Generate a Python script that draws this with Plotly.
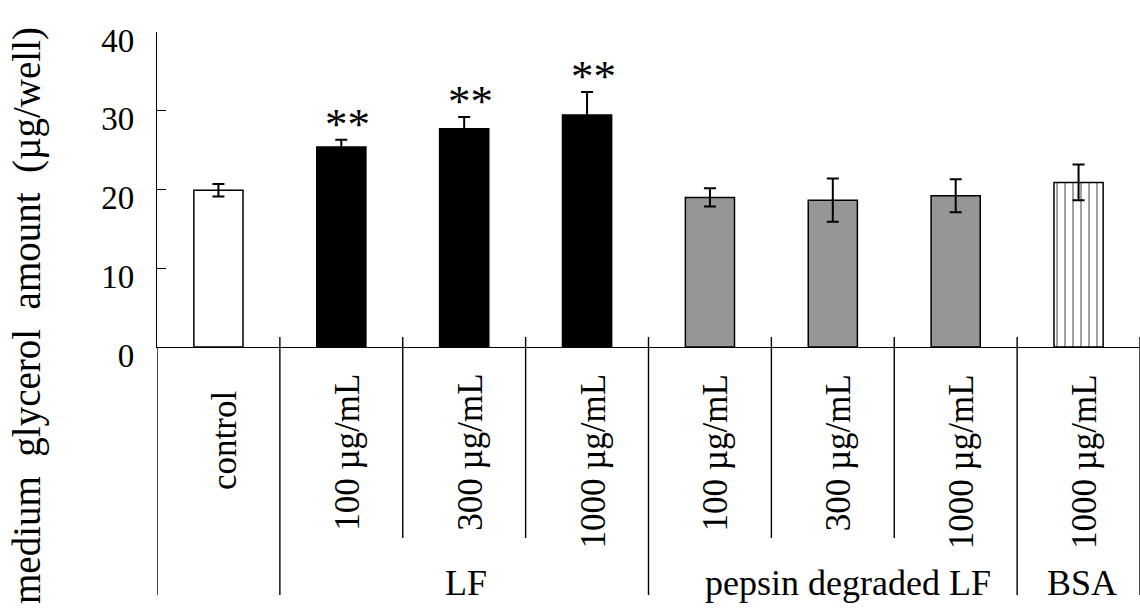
import plotly.graph_objects as go

# ---- data ----
categories = ['control', '100 µg/mL', '300 µg/mL', '1000 µg/mL',
              '100 µg/mL', '300 µg/mL', '1000 µg/mL', '1000 µg/mL']
groups = ['', 'LF', 'LF', 'LF', 'pepsin degraded LF', 'pepsin degraded LF',
          'pepsin degraded LF', 'BSA']
means = [19.9, 25.4, 27.7, 29.45, 19.0, 18.65, 19.2, 20.9]
sds = [0.8, 0.93, 1.52, 2.92, 1.16, 2.75, 2.1, 2.26]
marks = ['', '**', '**', '**', '', '', '', '']
y_ticks = [0, 10, 20, 30, 40]
y_title = 'medium\u00a0 glycerol\u00a0 amount\u00a0 (µg/well)'

# ---- styles ----
W, H = 1140, 614
ML, MR, MT, MB = 157, 0, 32, 267
PH = H - MT - MB
FONT = 'Liberation Serif'
bar_colors = []
patterns = []
for g in groups:
    if g == '':
        bar_colors.append('white'); patterns.append('')
    elif g == 'LF':
        bar_colors.append('black'); patterns.append('')
    elif g == 'BSA':
        bar_colors.append('white'); patterns.append('|')
    else:
        bar_colors.append('#969696'); patterns.append('')


def py(pix):
    """pixel row -> paper y"""
    return (H - MB - pix) / PH


def pxp(pix):
    return (pix - ML) / (W - ML - MR)


xs = list(range(len(categories)))

fig = go.Figure()
fig.add_trace(go.Bar(
    x=xs, y=means, width=0.4,
    marker=dict(color=bar_colors, line=dict(color='black', width=1.5),
                pattern=dict(shape=patterns, fgcolor='black', bgcolor='white',
                             size=8, solidity=0.25)),
    error_y=dict(type='data', array=sds, visible=True, color='black',
                 thickness=2, width=6),
    showlegend=False,
))

annotations = []
# significance marks
for i, (m, s, mk) in enumerate(zip(means, sds, marks)):
    if mk:
        annotations.append(dict(x=i, y=m + s, xref='x', yref='y', text=mk,
                                showarrow=False, xshift=6, yshift=16,
                                yanchor='middle',
                                font=dict(family=FONT, size=45, color='black')))
# category labels (rotated)
for i, c in enumerate(categories):
    top = 389 if c == 'control' else 372
    annotations.append(dict(x=i, y=py(top), xref='x', yref='paper', text=c,
                            textangle=-90, showarrow=False, xshift=6,
                            yanchor='top', xanchor='center',
                            font=dict(family=FONT, size=35, color='black')))
# group labels
seen = []
for g in groups:
    if g and g not in seen:
        seen.append(g)
shifts = {'LF': 2, 'pepsin degraded LF': 15, 'BSA': 3}
for g in seen:
    idx = [i for i, gg in enumerate(groups) if gg == g]
    cx = sum(idx) / len(idx)
    annotations.append(dict(x=cx, y=py(583), xref='x', yref='paper', text=g,
                            showarrow=False, xshift=shifts.get(g, 0),
                            yanchor='middle',
                            font=dict(family=FONT, size=36, color='black')))
# y title
annotations.append(dict(x=pxp(27), y=py(316), xref='paper', yref='paper',
                        text=y_title, textangle=-90, showarrow=False,
                        xanchor='center', yanchor='middle',
                        font=dict(family=FONT, size=39, color='black')))

# table lines
shapes = []
line = dict(color='black', width=1.4)
# y-axis extension downward
shapes.append(dict(type='line', xref='x', yref='paper', x0=-0.5, x1=-0.5,
                   y0=0, y1=py(595), line=line))
for k in range(len(categories)):
    xb = k + 0.5
    left = groups[k]
    right = groups[k + 1] if k + 1 < len(groups) else None
    full = (right is None) or (left != right)
    shapes.append(dict(type='line', xref='x', yref='paper', x0=xb, x1=xb,
                       y0=py(337), y1=py(595 if full else 538), line=line))

fig.update_layout(
    width=W, height=H,
    margin=dict(l=ML, r=MR, t=MT, b=MB, pad=0),
    paper_bgcolor='white', plot_bgcolor='white',
    annotations=annotations, shapes=shapes,
    xaxis=dict(range=[-0.5, 7.5], showline=True, linecolor='black',
               linewidth=1.4, showticklabels=False, ticks='',
               showgrid=False, zeroline=False),
    yaxis=dict(range=[0, 40], tickvals=y_ticks, ticks='inside', ticklen=9,
               tickwidth=1.4, tickcolor='black', showline=True,
               linecolor='black', linewidth=1.4, showgrid=False,
               zeroline=False, ticklabelstandoff=15, ticklabelshift=8,
               tickfont=dict(family=FONT, size=33, color='black')),
)

fig.write_html('out.html')
